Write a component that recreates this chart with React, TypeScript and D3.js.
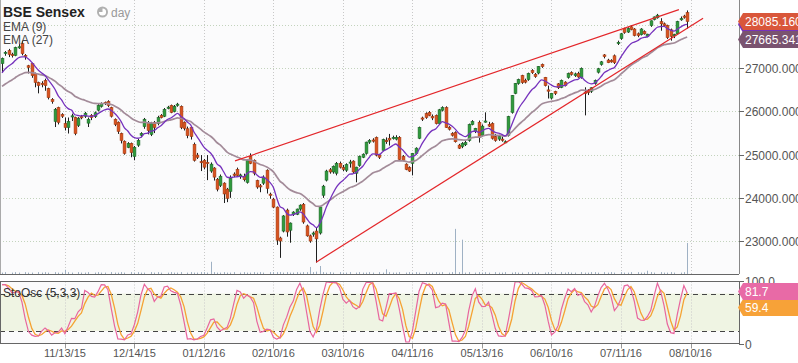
import React, { useEffect, useRef } from "react";
import * as d3 from "d3";

// daily bars: [open, high, low, close]
const ohlc: [number, number, number, number][] = [
  [27110, 27250, 26900, 27230], [27350, 27400, 27290, 27370], [27410, 27450, 27260, 27320],
  [27320, 27360, 27250, 27300], [27300, 27500, 27280, 27480], [27480, 27560, 27450, 27500],
  [27570, 27640, 27300, 27340], [27300, 27330, 27200, 27270], [27060, 27080, 26880, 27020],
  [27110, 27130, 26780, 26830], [26880, 26900, 26560, 26670], [26670, 26690, 26420, 26600],
  [26650, 26700, 26560, 26630], [26720, 26760, 26480, 26600], [26530, 26550, 26280, 26320],
  [26280, 26310, 26180, 26230], [25770, 26080, 25640, 26050], [26090, 26110, 25700, 25750],
  [25930, 25960, 25850, 25890],
  [25720, 25860, 25560, 25630], [25630, 25860, 25490, 25770], [25880, 25950, 25780, 25900],
  [25860, 25880, 25450, 25490], [25680, 25870, 25640, 25840], [25880, 25920, 25820, 25860],
  [25890, 25990, 25850, 25960], [25730, 25860, 25640, 25820], [25910, 25940, 25800, 25860],
  [25880, 26000, 25850, 25970], [26030, 26170, 26000, 26140], [26120, 26210, 26090, 26190],
  [26210, 26230, 26150, 26190], [26230, 26260, 26100, 26140], [26090, 26110, 25860, 25890],
  [25820, 25840, 25660, 25700], [25750, 25770, 25480, 25540], [25490, 25510, 25260, 25330],
  [25310, 25330, 25000, 25030], [25170, 25290, 25150, 25260], [25260, 25280, 24940, 25050],
  [24960, 25200, 24870, 25170], [25220, 25370, 25180, 25330], [25450, 25520, 25400, 25490],
  [25650, 25850, 25600, 25820], [25750, 25780, 25470, 25560], [25470, 25760, 25430, 25720],
  [25750, 25780, 25500, 25630], [25720, 25900, 25680, 25860], [25910, 25940, 25840, 25860],
  [25890, 26080, 25870, 26050], [26070, 26130, 26050, 26100], [26140, 26160, 25960, 25980],
  [26000, 26150, 25980, 26120], [26140, 26200, 26110, 26170], [26120, 26140, 25590, 25630],
  [25750, 25770, 25560, 25610], [25600, 25650, 25380, 25440], [25630, 25650, 25350, 25420],
  [25240, 25280, 24840, 24870], [24990, 25040, 24900, 24940], [24840, 24990, 24620, 24830],
  [24870, 24900, 24660, 24710], [24820, 24990, 24410, 24810], [24620, 24820, 24580, 24780],
  [24690, 24710, 24400, 24480], [24430, 24460, 24150, 24200], [24290, 24540, 24250, 24500],
  [24340, 24360, 23880, 24090], [24200, 24230, 23900, 23990], [24150, 24520, 24000, 24450],
  [24550, 24590, 24480, 24520], [24660, 24700, 24500, 24520], [24510, 24560, 24440, 24530],
  [24500, 24560, 24380, 24420], [24360, 24900, 24330, 24870], [24960, 25030, 24780, 24800],
  [24870, 24890, 24520, 24570], [24400, 24420, 24210, 24250], [24280, 24320, 24130, 24260],
  [24340, 24520, 24300, 24480], [24640, 24660, 24100, 24220], [24085, 24120, 23980, 24060],
  [23970, 24000, 23760, 23785], [23785, 23800, 22910, 23020], [23070, 23100, 22610, 23000],
  [23230, 23600, 23200, 23580], [23716, 23750, 23100, 23210], [23250, 23430, 22960, 23415],
  [23620, 23690, 23580, 23670], [23620, 23750, 23600, 23740], [23740, 23850, 23700, 23830],
  [23850, 23880, 23400, 23440], [23350, 23380, 23100, 23120], [23120, 23150, 22960, 23000],
  [23160, 23220, 23100, 23185], [23230, 23300, 22500, 23050], [23185, 23800, 23150, 23785],
  [24060, 24300, 24000, 24270], [24410, 24650, 24380, 24620], [24650, 24690, 24560, 24600],
  [24600, 24750, 24560, 24730], [24570, 24830, 24520, 24800], [24800, 24840, 24680, 24710],
  [24700, 24760, 24620, 24660], [24640, 24800, 24600, 24770], [24810, 24880, 24700, 24830],
  [24850, 24870, 24560, 24600], [24570, 24720, 24360, 24710], [24750, 24980, 24720, 24960],
  [24940, 25030, 24920, 25010], [25030, 25300, 25000, 25290], [25290, 25360, 25250, 25330],
  [25340, 25380, 25280, 25335], [25400, 25420, 24960, 24990], [24990, 25020, 24900, 24940],
  [25100, 25370, 25080, 25350], [25330, 25400, 25250, 25300], [25380, 25480, 25210, 25340],
  [25390, 25440, 25350, 25400], [25360, 25450, 25330, 25400], [25400, 25430, 24880, 24890],
  [24960, 24990, 24850, 24870], [24780, 24800, 24640, 24660], [24700, 24730, 24600, 24620],
  [24800, 25040, 24520, 25030], [25030, 25170, 25000, 25150], [25380, 25650, 25360, 25630],
  [25850, 25880, 25780, 25830], [25950, 25980, 25830, 25860], [25980, 26010, 25890, 25910],
  [25880, 25930, 25800, 25850], [25910, 25930, 25700, 25720], [25720, 26060, 25690, 26040],
  [26030, 26120, 26000, 26090], [26090, 26120, 25620, 25630], [25630, 25660, 25560, 25590],
  [25490, 25520, 25420, 25450], [25510, 25540, 25280, 25300], [25220, 25250, 25130, 25150],
  [25190, 25290, 25150, 25260], [25230, 25320, 25200, 25280], [25330, 25720, 25300, 25700],
  [25700, 25800, 25680, 25770], [25540, 25620, 25500, 25610], [25750, 25790, 25280, 25400],
  [25450, 25700, 25420, 25660], [25760, 25980, 25740, 25780], [25700, 25760, 25640, 25660],
  [25720, 25750, 25350, 25380], [25420, 25480, 25300, 25330], [25360, 25460, 25320, 25420],
  [25360, 25420, 25300, 25355], [25290, 25330, 25270, 25300], [25450, 25900, 25420, 25880],
  [25980, 26380, 25950, 26370], [26420, 26660, 26400, 26650], [26650, 26760, 26620, 26740],
  [26830, 26850, 26640, 26670], [26720, 26760, 26650, 26680], [26740, 26900, 26710, 26880],
  [26950, 26980, 26870, 26900], [26860, 26890, 26780, 26810], [26890, 27050, 26860, 27040],
  [27090, 27110, 27010, 27040], [26790, 26800, 26580, 26600], [26500, 26600, 26300, 26470],
  [26310, 26430, 26280, 26420], [26460, 26480, 26380, 26420], [26640, 26660, 26520, 26550],
  [26560, 26740, 26540, 26720], [26680, 26700, 26580, 26600], [26790, 26900, 26760, 26880],
  [26900, 26930, 26830, 26860], [26830, 26900, 26800, 26870], [26880, 26920, 26780, 26800],
  [26790, 27020, 26760, 27000], [26450, 26560, 25910, 26420], [26480, 26520, 26380, 26440],
  [26470, 26560, 26430, 26550], [26650, 26740, 26620, 26720], [26910, 27010, 26880, 26990],
  [27090, 27170, 27060, 27150], [27310, 27330, 27230, 27270], [27190, 27220, 27120, 27130],
  [27180, 27210, 27130, 27150], [27290, 27320, 27100, 27130], [27580, 27640, 27540, 27600],
  [27690, 27820, 27660, 27800], [27920, 27940, 27800, 27830], [27840, 27950, 27820, 27920],
  [27960, 28000, 27880, 27900], [27910, 27930, 27740, 27760], [27800, 27830, 27720, 27760],
  [27780, 27930, 27760, 27910], [27850, 27880, 27780, 27800], [27740, 27800, 27720, 27790],
  [27990, 28110, 27960, 28100], [28130, 28200, 28110, 28190], [28170, 28260, 28150, 28230],
  [28080, 28160, 27870, 28030], [28030, 28060, 27960, 27990], [27990, 28010, 27680, 27710],
  [27890, 27920, 27640, 27740], [27760, 27800, 27700, 27780], [27800, 28100, 27780, 28080],
  [28130, 28200, 28100, 28150], [28210, 28240, 28150, 28190], [28290, 28340, 27920, 28085.16],
];

const volumes = [
  3, 4, 0, 3, 4, 3, 0, 4, 3, 3, 0, 4, 3, 4, 3, 0, 4, 3, 3, 9, 4,
  3, 0, 4, 3, 3, 4, 0, 3, 4, 3, 3, 0, 4, 3, 3, 4, 3, 0, 4, 3, 4,
  3, 3, 0, 4, 3, 4, 3, 0, 3, 4, 3, 3, 4, 0, 3, 4, 3, 3, 4, 4, 3,
  26, 4, 3, 3, 4, 3, 3, 4, 0, 3, 4, 3, 3, 4, 3, 4, 3, 0, 4, 4, 4,
  4, 3, 4, 3, 3, 4, 3, 4, 4, 15, 4, 5, 17, 4, 3, 4, 3, 0, 4, 3, 3,
  4, 0, 3, 4, 3, 3, 4, 3, 0, 4, 3, 10, 4, 3, 3, 4, 0, 3, 4, 3, 4,
  3, 0, 4, 3, 3, 4, 3, 4, 0, 3, 4, 96, 4, 73, 3, 4, 0, 3, 4, 3, 4,
  3, 0, 4, 3, 3, 4, 0, 3, 4, 3, 3, 0, 4, 3, 4, 3, 0, 3, 4, 3, 3,
  0, 4, 3, 4, 3, 3, 0, 4, 3, 3, 4, 4, 3, 0, 4, 3, 4, 3, 0, 4, 3,
  3, 4, 0, 4, 3, 3, 7, 4, 3, 0, 4, 3, 3, 4, 3, 0, 3, 4, 66,
];

const dateLabels = ["11/13/15", "12/14/15", "01/12/16", "02/10/16", "03/10/16", "04/11/16", "05/13/16", "06/10/16", "07/11/16", "08/10/16"];
const dateIndex = [19, 40, 61, 82, 103, 124, 145, 166, 187, 208];
const priceTicks = [23000, 24000, 25000, 26000, 27000, 28000];
const oscTicks = [0, 100];
const oscTickLabels = ["0", "100.0"];
const oscBand = [20, 80];
// EMA values carried in from before the first bar: EMA(9), EMA(27)
const emaSeeds = [26810, 26530];
const emaPeriods = [9, 27];
// hand drawn channel, [bar index, price]
const upperLine = [[70.4, 24855], [204.5, 28358]];
const lowerLine = [[94.9, 22510], [211.8, 28160]];
const lastEma27 = 27665.341;
const lastOsc = [81.7, 59.4];

const font = "'Liberation Sans', Arial, sans-serif";

export default function App() {
  const svgRef = useRef<SVGSVGElement>(null);

  useEffect(() => {
    const svg = d3.select(svgRef.current);
    svg.selectAll("*").remove();

    const right = 739;
    const mainBottom = 274;
    const oscTop = 281.5;
    const oscBottom = 343.5;

    const x = d3.scaleLinear().domain([0, 208]).range([2, 690.5]);
    const y = d3.scaleLinear().domain([22236, 28582]).range([mainBottom, 0]);
    const vy = d3.scaleLinear().domain([0, 100]).range([mainBottom, mainBottom - 47]);
    const oy = d3.scaleLinear().domain([0, 100]).range([343.5, 281]);

    // indicators
    const closes = ohlc.map((d) => d[3]);
    const emas = emaPeriods.map((n, k) => {
      const a = 2 / (n + 1);
      let e = emaSeeds[k];
      return closes.map((c) => (e = a * c + (1 - a) * e));
    });
    const rawK = ohlc.map((d, i) => {
      const win = ohlc.slice(Math.max(0, i - 4), i + 1);
      const hh = d3.max(win, (w) => w[1])!;
      const ll = d3.min(win, (w) => w[2])!;
      return hh === ll ? 50 : (100 * (d[3] - ll)) / (hh - ll);
    });
    const sma = (arr: number[], n: number) =>
      arr.map((_, i) => d3.mean(arr.slice(Math.max(0, i - n + 1), i + 1))!);
    const pctK = sma(rawK, 3);
    const pctD = sma(pctK, 3);

    // panels
    svg.append("rect").attr("x", 0).attr("y", 0).attr("width", right).attr("height", mainBottom).attr("fill", "#fbfbfc");
    svg.append("rect").attr("x", 0).attr("y", oscTop).attr("width", right).attr("height", oscBottom - oscTop).attr("fill", "#fbfbfc");
    svg.append("rect")
      .attr("x", 0).attr("width", right)
      .attr("y", oy(oscBand[1])).attr("height", oy(oscBand[0]) - oy(oscBand[1]))
      .attr("fill", "#eff4e3");

    // grid
    svg.selectAll("line.hgrid").data(priceTicks).join("line")
      .attr("x1", 0).attr("x2", right)
      .attr("y1", (d) => Math.round(y(d)) + 0.5).attr("y2", (d) => Math.round(y(d)) + 0.5)
      .attr("stroke", "#c3d3bd").attr("stroke-dasharray", "1,2");
    dateIndex.forEach((di) => {
      const gx = Math.round(x(di)) + 0.5;
      [[0, mainBottom], [oscTop, oscBottom]].forEach(([a, b]) => {
        svg.append("line").attr("x1", gx).attr("x2", gx).attr("y1", a).attr("y2", b)
          .attr("stroke", "#c8c8c8").attr("stroke-dasharray", "1,2");
      });
      svg.append("line").attr("x1", gx).attr("x2", gx).attr("y1", oscBottom).attr("y2", oscBottom + 5)
        .attr("stroke", "#999");
    });

    // volume
    svg.selectAll("line.vol").data(volumes).join("line")
      .attr("x1", (_, i) => Math.round(x(i)) + 0.5).attr("x2", (_, i) => Math.round(x(i)) + 0.5)
      .attr("y1", vy(0)).attr("y2", (d) => vy(d))
      .attr("stroke", "#9fb1c4").attr("stroke-width", 1);

    // candles
    const g = svg.append("g");
    ohlc.forEach(([o, h, l, c], i) => {
      const cx = x(i);
      const up = c >= o;
      g.append("line")
        .attr("x1", Math.round(cx) + 0.5).attr("x2", Math.round(cx) + 0.5)
        .attr("y1", y(h)).attr("y2", y(l))
        .attr("stroke", "#1e1e1e").attr("stroke-width", 1);
      const top = y(Math.max(o, c));
      const hgt = Math.max(1.2, y(Math.min(o, c)) - top);
      g.append("rect")
        .attr("x", Math.round(cx) - 0.9).attr("width", 2.8)
        .attr("y", top).attr("height", hgt)
        .attr("fill", up ? "#2f9b3c" : "#d9531f")
        .attr("stroke", up ? "#1d6a29" : "#a33b13").attr("stroke-width", 0.6);
    });

    // moving averages
    const emaLine = d3.line<number>().x((_, i) => x(i)).y((d) => y(d)).curve(d3.curveMonotoneX);
    svg.append("path").attr("d", emaLine(emas[1])).attr("fill", "none")
      .attr("stroke", "#a38b99").attr("stroke-width", 1.7);
    svg.append("path").attr("d", emaLine(emas[0])).attr("fill", "none")
      .attr("stroke", "#7632bd").attr("stroke-width", 1.3);

    // channel lines
    [upperLine, lowerLine].forEach((ln) => {
      svg.append("line")
        .attr("x1", x(ln[0][0])).attr("y1", y(ln[0][1]))
        .attr("x2", x(ln[1][0])).attr("y2", y(ln[1][1]))
        .attr("stroke", "#e3262a").attr("stroke-width", 1.2);
    });

    // stochastic
    svg.selectAll("line.band").data(oscBand).join("line")
      .attr("x1", 0).attr("x2", right)
      .attr("y1", (d) => Math.round(oy(d)) + 0.5).attr("y2", (d) => Math.round(oy(d)) + 0.5)
      .attr("stroke", "#444").attr("stroke-dasharray", "5,4");
    const oscLine = d3.line<number>().x((_, i) => x(i)).y((d) => oy(d));
    svg.append("path").attr("d", oscLine(pctD)).attr("fill", "none")
      .attr("stroke", "#f5a232").attr("stroke-width", 1.3);
    svg.append("path").attr("d", oscLine(pctK)).attr("fill", "none")
      .attr("stroke", "#e8659d").attr("stroke-width", 1.2);

    // frames
    svg.append("line").attr("x1", 0.5).attr("x2", 0.5).attr("y1", 0).attr("y2", mainBottom).attr("stroke", "#aaa");
    svg.append("line").attr("x1", 0).attr("x2", right).attr("y1", mainBottom + 0.5).attr("y2", mainBottom + 0.5).attr("stroke", "#666");
    svg.append("rect").attr("x", 0.5).attr("y", oscTop).attr("width", right).attr("height", oscBottom - oscTop)
      .attr("fill", "none").attr("stroke", "#666");
    svg.append("line").attr("x1", right + 0.5).attr("x2", right + 0.5).attr("y1", 0).attr("y2", mainBottom)
      .attr("stroke", "#888");

    // right axes
    priceTicks.forEach((p) => {
      const ty = Math.round(y(p)) + 0.5;
      svg.append("line").attr("x1", right).attr("x2", right + 5).attr("y1", ty).attr("y2", ty).attr("stroke", "#666");
      svg.append("text").attr("x", 745).attr("y", ty + 4).text(d3.format(".3f")(p))
        .attr("font-family", font).attr("font-size", 12).attr("fill", "#555");
    });
    oscTicks.forEach((p, k) => {
      const ty = Math.round(oy(p)) + 0.5;
      svg.append("line").attr("x1", right).attr("x2", right + 5).attr("y1", ty).attr("y2", ty).attr("stroke", "#666");
      svg.append("text").attr("x", 745).attr("y", ty + 4).text(oscTickLabels[k])
        .attr("font-family", font).attr("font-size", 12).attr("fill", "#555");
    });

    // value flags
    const flag = (cy: number, fill: string, label: string) => {
      const gg = svg.append("g");
      gg.append("path")
        .attr("d", `M${right - 1},${cy} L${right + 4},${cy - 8.5} L800,${cy - 8.5} L800,${cy + 8.5} L${right + 4},${cy + 8.5} Z`)
        .attr("fill", fill);
      if (label)
        gg.append("text").attr("x", 745).attr("y", cy + 4.5).text(label)
          .attr("font-family", font).attr("font-size", 12).attr("fill", "#fff");
    };
    const last = ohlc.length - 1;
    flag(y(emas[0][last]), "#7632bd", "");
    flag(y(lastEma27), "#7a5370", d3.format(".3f")(lastEma27));
    flag(y(closes[last]), "#d9573b", d3.format(".3f")(closes[last]));
    flag(oy(lastOsc[1]) + 1, "#f7a238", String(lastOsc[1]));
    flag(oy(lastOsc[0]) - 1, "#e86aa6", String(lastOsc[0]));

    // dates
    dateLabels.forEach((d, k) => {
      svg.append("text").attr("x", x(dateIndex[k])).attr("y", 357).attr("text-anchor", "middle")
        .text(d).attr("font-family", font).attr("font-size", 11).attr("fill", "#555");
    });

    // legend
    svg.append("text").attr("x", 3).attr("y", 17).text("BSE Sensex")
      .attr("font-family", font).attr("font-size", 14).attr("font-weight", "bold").attr("fill", "#222");
    svg.append("circle").attr("cx", 102.5).attr("cy", 12).attr("r", 5.5).attr("fill", "#b0b0b0");
    svg.append("path").attr("d", d3.arc()({ innerRadius: 0, outerRadius: 3.6, startAngle: 0, endAngle: Math.PI * 1.5 }))
      .attr("transform", "translate(102.5,12)").attr("fill", "#fff");
    svg.append("text").attr("x", 111).attr("y", 16.5).text("day")
      .attr("font-family", font).attr("font-size", 12).attr("fill", "#999");
    svg.append("text").attr("x", 3).attr("y", 30.5).text("EMA (9)")
      .attr("font-family", font).attr("font-size", 12).attr("fill", "#444");
    svg.append("text").attr("x", 3).attr("y", 44).text("EMA (27)")
      .attr("font-family", font).attr("font-size", 12).attr("fill", "#444");
    svg.append("text").attr("x", 3).attr("y", 296.5).text("StoOsc (5,3,3)")
      .attr("font-family", font).attr("font-size", 12).attr("fill", "#333");
  }, []);

  return (
    <svg
      ref={svgRef}
      width={798}
      height={363}
      style={{ position: "absolute", left: 0, top: 0, background: "#fff" }}
    />
  );
}
